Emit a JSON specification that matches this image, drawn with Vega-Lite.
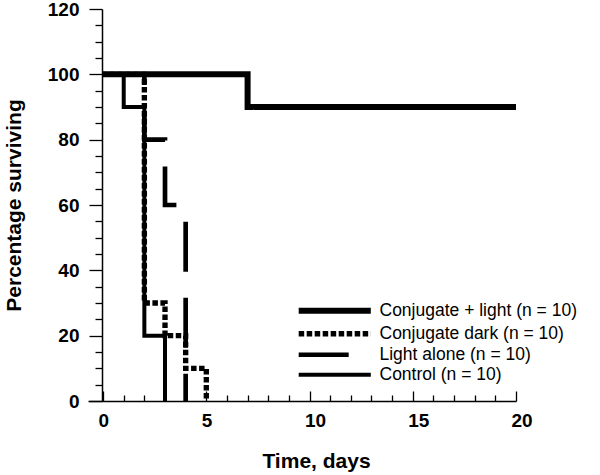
{
  "$schema": "https://vega.github.io/schema/vega-lite/v6.json",
  "width": 428,
  "height": 392,
  "autosize": "none",
  "padding": {"left": 88, "top": 9, "right": 84, "bottom": 74},
  "background": "white",
  "data": {
    "values": [
      {"series": "Light alone (n = 10)", "day": 0, "pct": 100},
      {"series": "Light alone (n = 10)", "day": 2, "pct": 80},
      {"series": "Light alone (n = 10)", "day": 3, "pct": 60},
      {"series": "Light alone (n = 10)", "day": 4, "pct": 0},
      {"series": "Control (n = 10)", "day": 0, "pct": 100},
      {"series": "Control (n = 10)", "day": 1, "pct": 90},
      {"series": "Control (n = 10)", "day": 2, "pct": 20},
      {"series": "Control (n = 10)", "day": 3, "pct": 0},
      {"series": "Conjugate dark (n = 10)", "day": 0, "pct": 100},
      {"series": "Conjugate dark (n = 10)", "day": 2, "pct": 30},
      {"series": "Conjugate dark (n = 10)", "day": 3, "pct": 20},
      {"series": "Conjugate dark (n = 10)", "day": 4, "pct": 10},
      {"series": "Conjugate dark (n = 10)", "day": 5, "pct": 0},
      {"series": "Conjugate + light (n = 10)", "day": 0, "pct": 100},
      {"series": "Conjugate + light (n = 10)", "day": 7, "pct": 90},
      {"series": "Conjugate + light (n = 10)", "day": 20, "pct": 90}
    ]
  },
  "mark": {"type": "line", "interpolate": "step-after", "color": "black", "strokeDashOffset": 74, "clip": false},
  "encoding": {
    "x": {
      "field": "day", "type": "quantitative",
      "scale": {"domain": [-0.73, 20], "nice": false, "zero": false},
      "axis": {
        "title": "Time, days",
        "values": [0,1,2,3,4,5,6,7,8,9,10,11,12,13,14,15,16,17,18,19,20],
        "labelExpr": "datum.value % 5 === 0 ? datum.label : ''",
        "tickSize": {"condition": {"test": "datum.value % 5 === 0", "value": -10}, "value": -6},
        "labelPadding": 20,
        "labelAlign": "left",
        "labelOffset": -5,
        "labelFlush": false,
        "titleX": 228,
        "titlePadding": 20
      }
    },
    "y": {
      "field": "pct", "type": "quantitative",
      "scale": {"domain": [0, 120], "nice": false},
      "axis": {
        "title": "Percentage surviving",
        "offset": -14,
        "values": [0,5,10,15,20,25,30,35,40,45,50,55,60,65,70,75,80,85,90,95,100,105,110,115,120],
        "labelExpr": "datum.value % 20 === 0 ? datum.label : ''",
        "tickSize": {"condition": {"test": "datum.value % 20 === 0", "value": 13}, "value": 7},
        "labelPadding": 10,
        "titlePadding": 23
      }
    },
    "detail": {"field": "series"},
    "strokeDash": {
      "field": "series", "type": "nominal",
      "scale": {
        "domain": ["Conjugate + light (n = 10)", "Conjugate dark (n = 10)", "Light alone (n = 10)", "Control (n = 10)"],
        "range": [[1, 0], [5.5, 2.5], [50, 26], [1, 0]]
      },
      "legend": {"title": null}
    },
    "strokeWidth": {
      "field": "series", "type": "nominal",
      "scale": {
        "domain": ["Conjugate + light (n = 10)", "Conjugate dark (n = 10)", "Light alone (n = 10)", "Control (n = 10)"],
        "range": [6, 4, 1.5, 1.5]
      },
      "legend": {"title": null}
    }
  },
  "config": {
    "view": {"stroke": null},
    "font": "Liberation Sans",
    "axis": {
      "grid": false,
      "domainColor": "black",
      "domainWidth": 1.5,
      "tickColor": "black",
      "tickWidth": 1.3,
      "labelColor": "black",
      "labelFont": "Liberation Sans",
      "labelFontSize": 19,
      "labelFontWeight": "bold",
      "titleColor": "black",
      "titleFont": "Liberation Sans",
      "titleFontSize": 21,
      "titleFontWeight": "bold"
    },
    "legend": {
      "orient": "none",
      "legendX": 238,
      "legendY": 293,
      "symbolType": "M-10,0H10",
      "symbolSize": 52,
      "symbolStrokeColor": "black",
      "symbolFillColor": "transparent",
      "labelFont": "Liberation Sans",
      "labelFontSize": 17.5,
      "labelColor": "black",
      "labelOffset": 36,
      "labelLimit": 400,
      "rowPadding": 0,
      "padding": 0,
      "offset": 0
    }
  }
}
